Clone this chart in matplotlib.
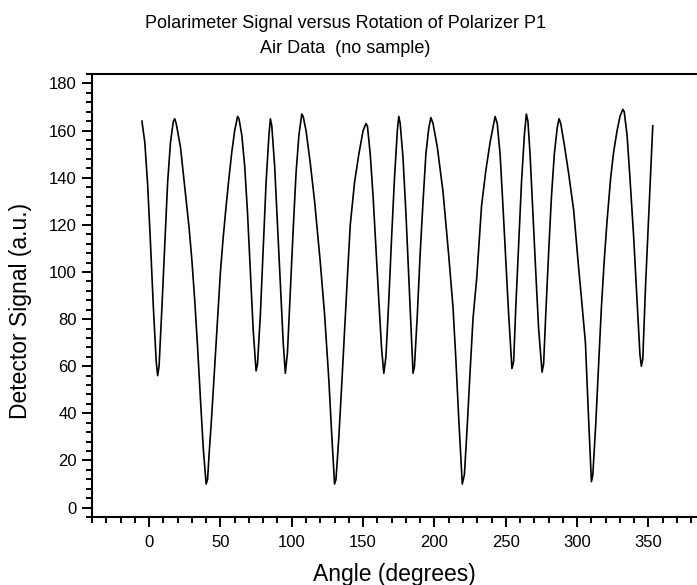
import numpy as np
import matplotlib
matplotlib.use("Agg")
import matplotlib.pyplot as plt
from matplotlib.ticker import MultipleLocator

plt.rcParams['font.family'] = ['Liberation Sans', 'DejaVu Sans']

# angle (deg) and detector signal (a.u.)
angle = [-5, -3, -1, 1, 3, 5, 6, 7,
         9, 11, 13, 15, 17, 18, 19,
         22, 25, 28, 30, 32, 34, 36, 38, 40, 41,
         42, 44, 46, 48, 50, 52, 54, 56, 58, 60, 62, 63,
         65, 67, 69, 71, 73, 75, 76,
         78, 80, 82, 84, 85, 86,
         88, 90, 92, 94, 95.5, 97,
         99, 101, 103, 105, 107, 108,
         110, 113, 116, 120, 123, 126, 128, 130, 131,
         133, 135, 137, 139, 141, 144, 147, 150, 152, 153,
         155, 157, 159, 161, 163, 164.5, 166,
         168, 170, 172, 174, 175, 176,
         178, 180, 182, 184, 185, 186,
         188, 190, 192, 194, 196, 197.5, 199,
         202, 206, 210, 213, 215, 217, 219.5, 221,
         223, 225, 227, 229.7, 233, 236, 239, 242.5, 244,
         246, 248, 250, 252, 254.3, 255.5,
         257, 259, 261, 263, 264.4, 265.5,
         267, 269, 271, 273, 275.4, 276.5,
         278, 280, 282, 284, 286, 287.3, 288.5,
         291, 294, 297.6, 301, 303, 305.8, 308, 310, 311,
         313, 315, 317, 319, 321, 323.5, 325.6, 328, 330, 332, 333,
         335, 337, 339.6, 342, 344, 345, 346,
         348, 350, 352, 353]
signal = [164, 155, 137, 112, 85, 62, 56, 60,
          85, 112, 138, 155, 164, 165, 163,
          153, 136, 119, 105, 88, 68, 46, 25, 10, 12,
          22, 40, 60, 80, 100, 115, 128, 140, 151, 160, 166, 165,
          158, 145, 125, 100, 75, 58, 61,
          82, 110, 138, 158, 165, 162,
          145, 120, 95, 70, 57, 66,
          92, 118, 142, 158, 167, 166,
          160, 146, 130, 104, 82, 54, 31, 10, 12,
          30, 52, 75, 98, 120, 138, 150, 160, 163, 162,
          150, 132, 110, 88, 67, 57, 64,
          88, 115, 140, 160, 166, 163,
          148, 125, 98, 70, 57, 60,
          82, 108, 130, 150, 161, 165.5, 163,
          153, 134, 107, 85, 63, 38, 10, 14,
          35, 58, 80, 98, 128, 143, 155, 166, 163,
          150, 128, 105, 82, 59, 62,
          85, 112, 138, 158, 167, 164,
          150, 125, 100, 76, 57.5, 61,
          82, 108, 132, 150, 161, 165, 163,
          154, 142, 126, 102, 89, 70, 38, 11, 14,
          35, 60, 85, 105, 122, 140, 151, 160, 166, 169, 168,
          158, 140, 115, 88, 65, 60, 63,
          95, 122, 148, 162]

title = "Polarimeter Signal versus Rotation of Polarizer P1\nAir Data  (no sample)"

fig = plt.figure(figsize=(6.97, 5.85), dpi=100)
ax = fig.add_axes([0.132, 0.1162, 0.868, 0.7573])
ax.plot(angle, signal, color='black', lw=1.2)

ax.set_xlim(-40, 384)
ax.set_ylim(-4, 184)
ax.xaxis.set_major_locator(MultipleLocator(50))
ax.xaxis.set_minor_locator(MultipleLocator(10))
ax.yaxis.set_major_locator(MultipleLocator(20))
ax.yaxis.set_minor_locator(MultipleLocator(4))
ax.tick_params(which='major', direction='out', length=7, width=1.4, labelsize=12, pad=4)
ax.tick_params(axis='x', which='major', pad=6)
ax.tick_params(which='minor', direction='out', length=4, width=1.4)
for s in ['left', 'bottom', 'top']:
    ax.spines[s].set_linewidth(1.5)
ax.spines['right'].set_visible(False)

ax.set_xlabel('Angle (degrees)', fontsize=16.5, labelpad=9)
ax.set_ylabel('Detector Signal (a.u.)', fontsize=16.5)
ax.yaxis.set_label_coords(-0.1, 0.465)
fig.text(0.495, 0.938, title, ha='center', va='center', fontsize=13, linespacing=1.6)

fig.savefig('out.png', dpi=100)
